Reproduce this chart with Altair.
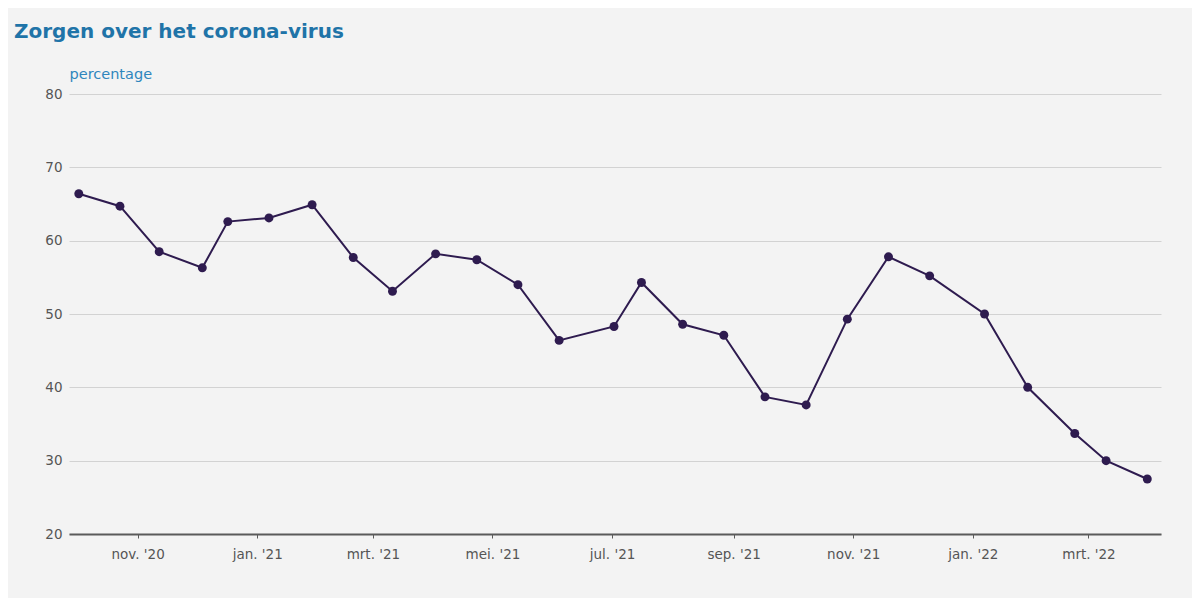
import altair as alt
import pandas as pd

dates = [
    "2020-10-02", "2020-10-23", "2020-11-12", "2020-12-04", "2020-12-17",
    "2021-01-07", "2021-01-29", "2021-02-19", "2021-03-11", "2021-04-02",
    "2021-04-23", "2021-05-14", "2021-06-04", "2021-07-02", "2021-07-16",
    "2021-08-06", "2021-08-27", "2021-09-17", "2021-10-08", "2021-10-29",
    "2021-11-19", "2021-12-10", "2022-01-07", "2022-01-29", "2022-02-22",
    "2022-03-10", "2022-03-31",
]
values = [
    66.4, 64.7, 58.5, 56.3, 62.6,
    63.1, 64.9, 57.7, 53.1, 58.2,
    57.4, 54.0, 46.4, 48.3, 54.3,
    48.6, 47.1, 38.7, 37.6, 49.3,
    57.8, 55.2, 50.0, 40.0, 33.7,
    30.0, 27.5,
]
y_ticks = [20, 30, 40, 50, 60, 70, 80]
month_labels = ["jan.", "feb.", "mrt.", "apr.", "mei.", "jun.", "jul.", "aug.", "sep.", "okt.", "nov.", "dec."]
tick_months = [(2020, 11), (2021, 1), (2021, 3), (2021, 5), (2021, 7), (2021, 9),
               (2021, 11), (2022, 1), (2022, 3)]

df = pd.DataFrame({"datum": [d + "T00:00:00" for d in dates], "waarde": values})

W, H = 1092, 440
PL, PT = 61, 86
TOTAL_W, TOTAL_H = 1184, 590

label_expr = "[" + ",".join("'" + m + "'" for m in month_labels) + "][month(datum.value)] + \" '\" + timeFormat(datum.value, '%y')"

x_enc = alt.X(
    "datum:T",
    scale=alt.Scale(domain=[alt.DateTime(year=2020, month=9, date=27),
                            alt.DateTime(year=2022, month=4, date=7)]),
    axis=alt.Axis(
        values=[alt.DateTime(year=y, month=m, date=1) for y, m in tick_months],
        labelExpr=label_expr,
        title=None,
        grid=False,
        domainColor="#5a5a5a",
        domainWidth=2,
        tickColor="#5a5a5a",
        tickSize=4,
        labelColor="#555555",
        labelFontSize=13.5,
        labelFont="DejaVu Sans",
        labelPadding=9,
    ),
)
y_enc = alt.Y(
    "waarde:Q",
    scale=alt.Scale(domain=[20, 80], nice=False, zero=False),
    axis=alt.Axis(
        values=y_ticks,
        title="percentage",
        titleAngle=0,
        titleX=0,
        titleY=-16,
        titleAlign="left",
        titleBaseline="alphabetic",
        titleColor="#2f86bd",
        titleFontSize=14.5,
        titleFontWeight="normal",
        titleFont="DejaVu Sans",
        domain=False,
        ticks=False,
        grid=True,
        gridColor="#d2d2d2",
        gridWidth=1,
        labelColor="#555555",
        labelFontSize=13.5,
        labelFont="DejaVu Sans",
        labelPadding=7,
    ),
)

base = alt.Chart(df)
line = base.mark_line(color="#2e1b4f", strokeWidth=2).encode(x=x_enc, y=y_enc)
pts = base.mark_circle(color="#2e1b4f", size=80, opacity=1).encode(x="datum:T", y="waarde:Q")

chart = alt.layer(line, pts).properties(
    width=W,
    height=H,
    autosize=alt.AutoSizeParams(type="none"),
    padding={"left": PL, "top": PT, "right": TOTAL_W - PL - W, "bottom": TOTAL_H - PT - H},
    background="#f3f3f3",
    title=alt.TitleParams(
        "Zorgen over het corona-virus",
        anchor="start",
        frame="group",
        dx=-55,
        offset=24,
        fontSize=20,
        fontWeight="bold",
        color="#1f74a8",
        font="DejaVu Sans",
    ),
).configure_view(strokeWidth=0)

chart.save("out.html", embed_options={"renderer": "svg", "actions": False})
